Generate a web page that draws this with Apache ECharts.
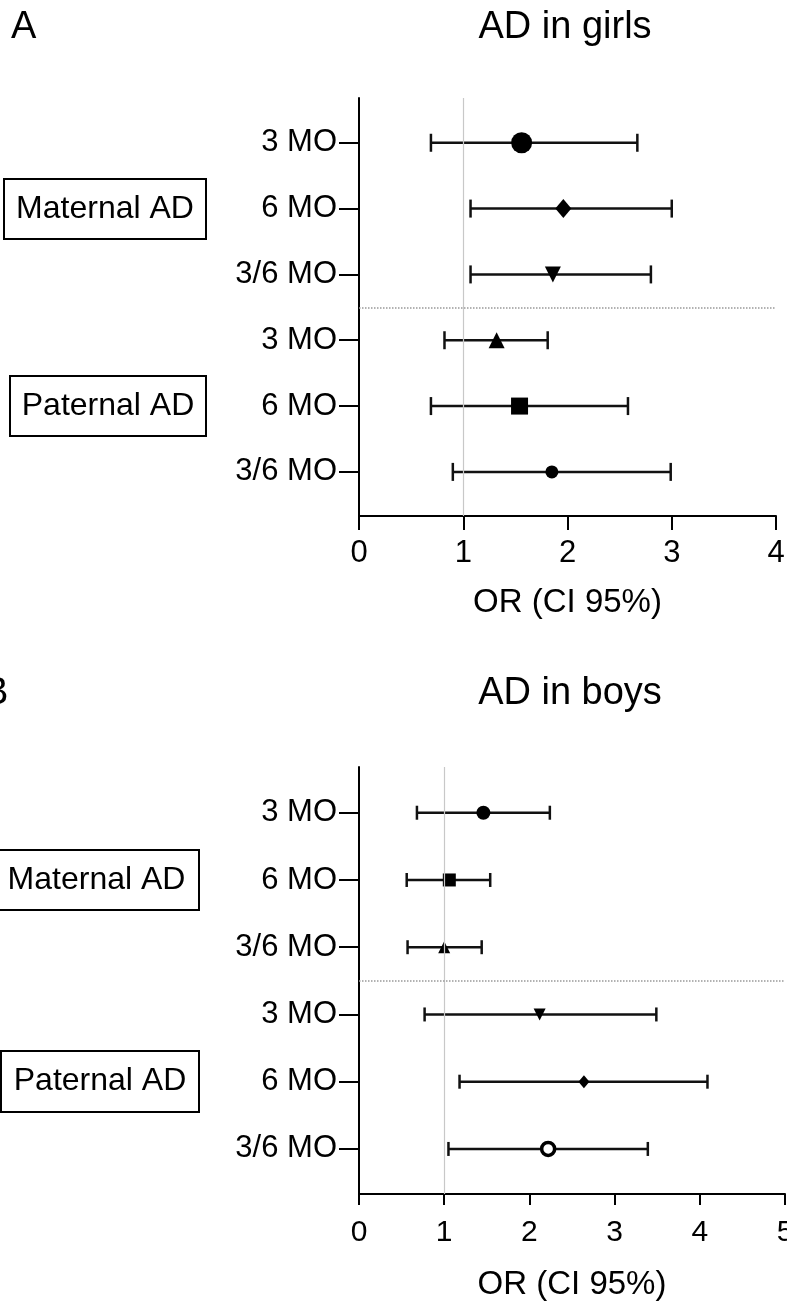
<!DOCTYPE html>
<html>
<head>
<meta charset="utf-8">
<script src="https://cdn.jsdelivr.net/npm/echarts@6/dist/echarts.min.js"></script>
<style>
  html, body { margin: 0; padding: 0; background: #fff; }
  #chart { width: 787px; height: 1306px; }
</style>
</head>
<body>
<div id="chart"></div>
<script>
// rows, top to bottom in each panel
const rowLabels = ['3 MO', '6 MO', '3/6 MO', '3 MO', '6 MO', '3/6 MO']
const rowIndex = [1, 2, 3, 4, 5, 6]
const groupLabels = ['Maternal AD', 'Paternal AD']

// A: AD in girls
const girlsOR = [1.56, 1.96, 1.86, 1.32, 1.54, 1.85]
const girlsLow = [0.69, 1.07, 1.07, 0.82, 0.69, 0.90]
const girlsHigh = [2.67, 3.00, 2.80, 1.81, 2.58, 2.99]
const girlsTicks = [0, 1, 2, 3, 4]

// B: AD in boys
const boysOR = [1.46, 1.06, 1.00, 2.12, 2.64, 2.22]
const boysLow = [0.68, 0.56, 0.57, 0.77, 1.18, 1.05]
const boysHigh = [2.24, 1.54, 1.44, 3.49, 4.09, 3.39]
const boysTicks = [0, 1, 2, 3, 4, 5]

const FONT = '"Liberation Sans", Arial, Helvetica, sans-serif'

// marker look per row
const girlsMarks = [
  { symbol: 'circle', size: 21 },
  { symbol: 'diamond', size: [16, 19] },
  { symbol: 'triangle', size: 16, rotate: 180 },
  { symbol: 'triangle', size: 16 },
  { symbol: 'rect', size: 17 },
  { symbol: 'circle', size: 13 }
]
const boysMarks = [
  { symbol: 'circle', size: 14 },
  { symbol: 'rect', size: 13 },
  { symbol: 'triangle', size: 12 },
  { symbol: 'triangle', size: 12, rotate: 180 },
  { symbol: 'diamond', size: [11, 13] },
  { symbol: 'circle', size: 13, hollow: true }
]

const chart = echarts.init(document.getElementById('chart'))

const xAxisFor = (grid, ticks, tickLen, margin, nameGap, fontSize) => ({
  gridIndex: grid,
  type: 'value',
  min: ticks[0],
  max: ticks[ticks.length - 1],
  interval: 1,
  axisLine: { show: true, onZero: false, lineStyle: { color: '#000', width: 2 } },
  axisTick: { show: true, length: tickLen, lineStyle: { color: '#000', width: 2 } },
  axisLabel: { color: '#000', fontSize: fontSize, fontFamily: FONT, margin: margin },
  splitLine: { show: false },
  name: 'OR (CI 95%)',
  nameLocation: 'middle',
  nameGap: nameGap,
  nameTextStyle: { color: '#000', fontSize: 33, fontFamily: FONT }
})

const yAxisFor = (grid) => ({
  gridIndex: grid,
  type: 'value',
  inverse: true,
  min: 0.32,
  max: 6.67,
  axisLine: { show: true, onZero: false, lineStyle: { color: '#000', width: 2 } },
  axisTick: { show: true, length: 20, customValues: rowIndex, lineStyle: { color: '#000', width: 2 } },
  axisLabel: {
    customValues: rowIndex,
    formatter: v => rowLabels[Math.round(v) - 1],
    color: '#000',
    fontSize: 31,
    fontFamily: FONT,
    margin: 22
  },
  splitLine: { show: false }
})

const barsFor = (grid, low, high, cap) => ({
  type: 'custom',
  xAxisIndex: grid,
  yAxisIndex: grid,
  z: 3,
  data: rowIndex.map((r, i) => [r, low[i], high[i]]),
  encode: { x: [1, 2], y: 0 },
  renderItem: (params, api) => {
    const a = api.coord([api.value(1), api.value(0)])
    const b = api.coord([api.value(2), api.value(0)])
    const st = { stroke: '#111', lineWidth: 2.5 }
    return {
      type: 'group',
      children: [
        { type: 'line', shape: { x1: a[0], y1: a[1], x2: b[0], y2: b[1] }, style: st },
        { type: 'line', shape: { x1: a[0], y1: a[1] - cap, x2: a[0], y2: a[1] + cap }, style: st },
        { type: 'line', shape: { x1: b[0], y1: b[1] - cap, x2: b[0], y2: b[1] + cap }, style: st }
      ]
    }
  }
})

const pointsFor = (grid, or, marks) => ({
  type: 'scatter',
  xAxisIndex: grid,
  yAxisIndex: grid,
  z: 4,
  data: or.map((v, i) => {
    const m = marks[i]
    return {
      value: [v, rowIndex[i]],
      symbol: m.symbol,
      symbolSize: m.size,
      symbolRotate: m.rotate || 0,
      itemStyle: m.hollow
        ? { color: '#fff', borderColor: '#000', borderWidth: 3.5, opacity: 1 }
        : { color: '#000', opacity: 1 }
    }
  })
})

const refLinesFor = (grid) => ({
  type: 'line',
  xAxisIndex: grid,
  yAxisIndex: grid,
  z: 1,
  data: [],
  markLine: {
    silent: true,
    symbol: 'none',
    label: { show: false },
    animation: false,
    data: [
      { xAxis: 1, lineStyle: { color: '#c8c8c8', width: 1.2, type: 'solid' } },
      { yAxis: 3.5, lineStyle: { color: '#999', width: 1.5, type: 'dotted' } }
    ]
  }
})

const boxLabel = (text, x, y, w, h) => ([
  { type: 'rect', shape: { x: x, y: y, width: w, height: h }, style: { fill: '#fff', stroke: '#000', lineWidth: 2 } },
  {
    type: 'text', x: x + w / 2, y: y + h / 2,
    style: { text: text, font: '32px ' + FONT, fill: '#000', textAlign: 'center', textVerticalAlign: 'middle', align: 'center', verticalAlign: 'middle' }
  }
])

const plainText = (text, x, y, size, align) => ({
  type: 'text', x: x, y: y,
  style: { text: text, font: size + 'px ' + FONT, fill: '#000', textAlign: align, textVerticalAlign: 'middle', align: align, verticalAlign: 'middle' }
})

const option = {
  animation: false,
  backgroundColor: '#fff',
  grid: [
    { left: 359, right: 11, top: 98, height: 418, outerBoundsMode: 'none' },
    { left: 359, right: 2, top: 767, height: 427, outerBoundsMode: 'none' }
  ],
  xAxis: [
    xAxisFor(0, girlsTicks, 14, 22, 70, 31),
    xAxisFor(1, boysTicks, 11, 24, 74, 30)
  ],
  yAxis: [yAxisFor(0), yAxisFor(1)],
  series: [
    refLinesFor(0),
    barsFor(0, girlsLow, girlsHigh, 9),
    pointsFor(0, girlsOR, girlsMarks),
    refLinesFor(1),
    barsFor(1, boysLow, boysHigh, 7),
    pointsFor(1, boysOR, boysMarks)
  ],
  graphic: [
    plainText('A', 11, 28, 38, 'left'),
    plainText('AD in girls', 565, 28, 38, 'center'),
    plainText('B', -17, 694, 38, 'left'),
    plainText('AD in boys', 570, 694, 38, 'center'),
    ...boxLabel(groupLabels[0], 4, 179, 202, 60),
    ...boxLabel(groupLabels[1], 10, 376, 196, 60),
    ...boxLabel(groupLabels[0], -6, 850, 205, 60),
    ...boxLabel(groupLabels[1], 1, 1051, 198, 61)
  ]
}

chart.setOption(option)
</script>
</body>
</html>
